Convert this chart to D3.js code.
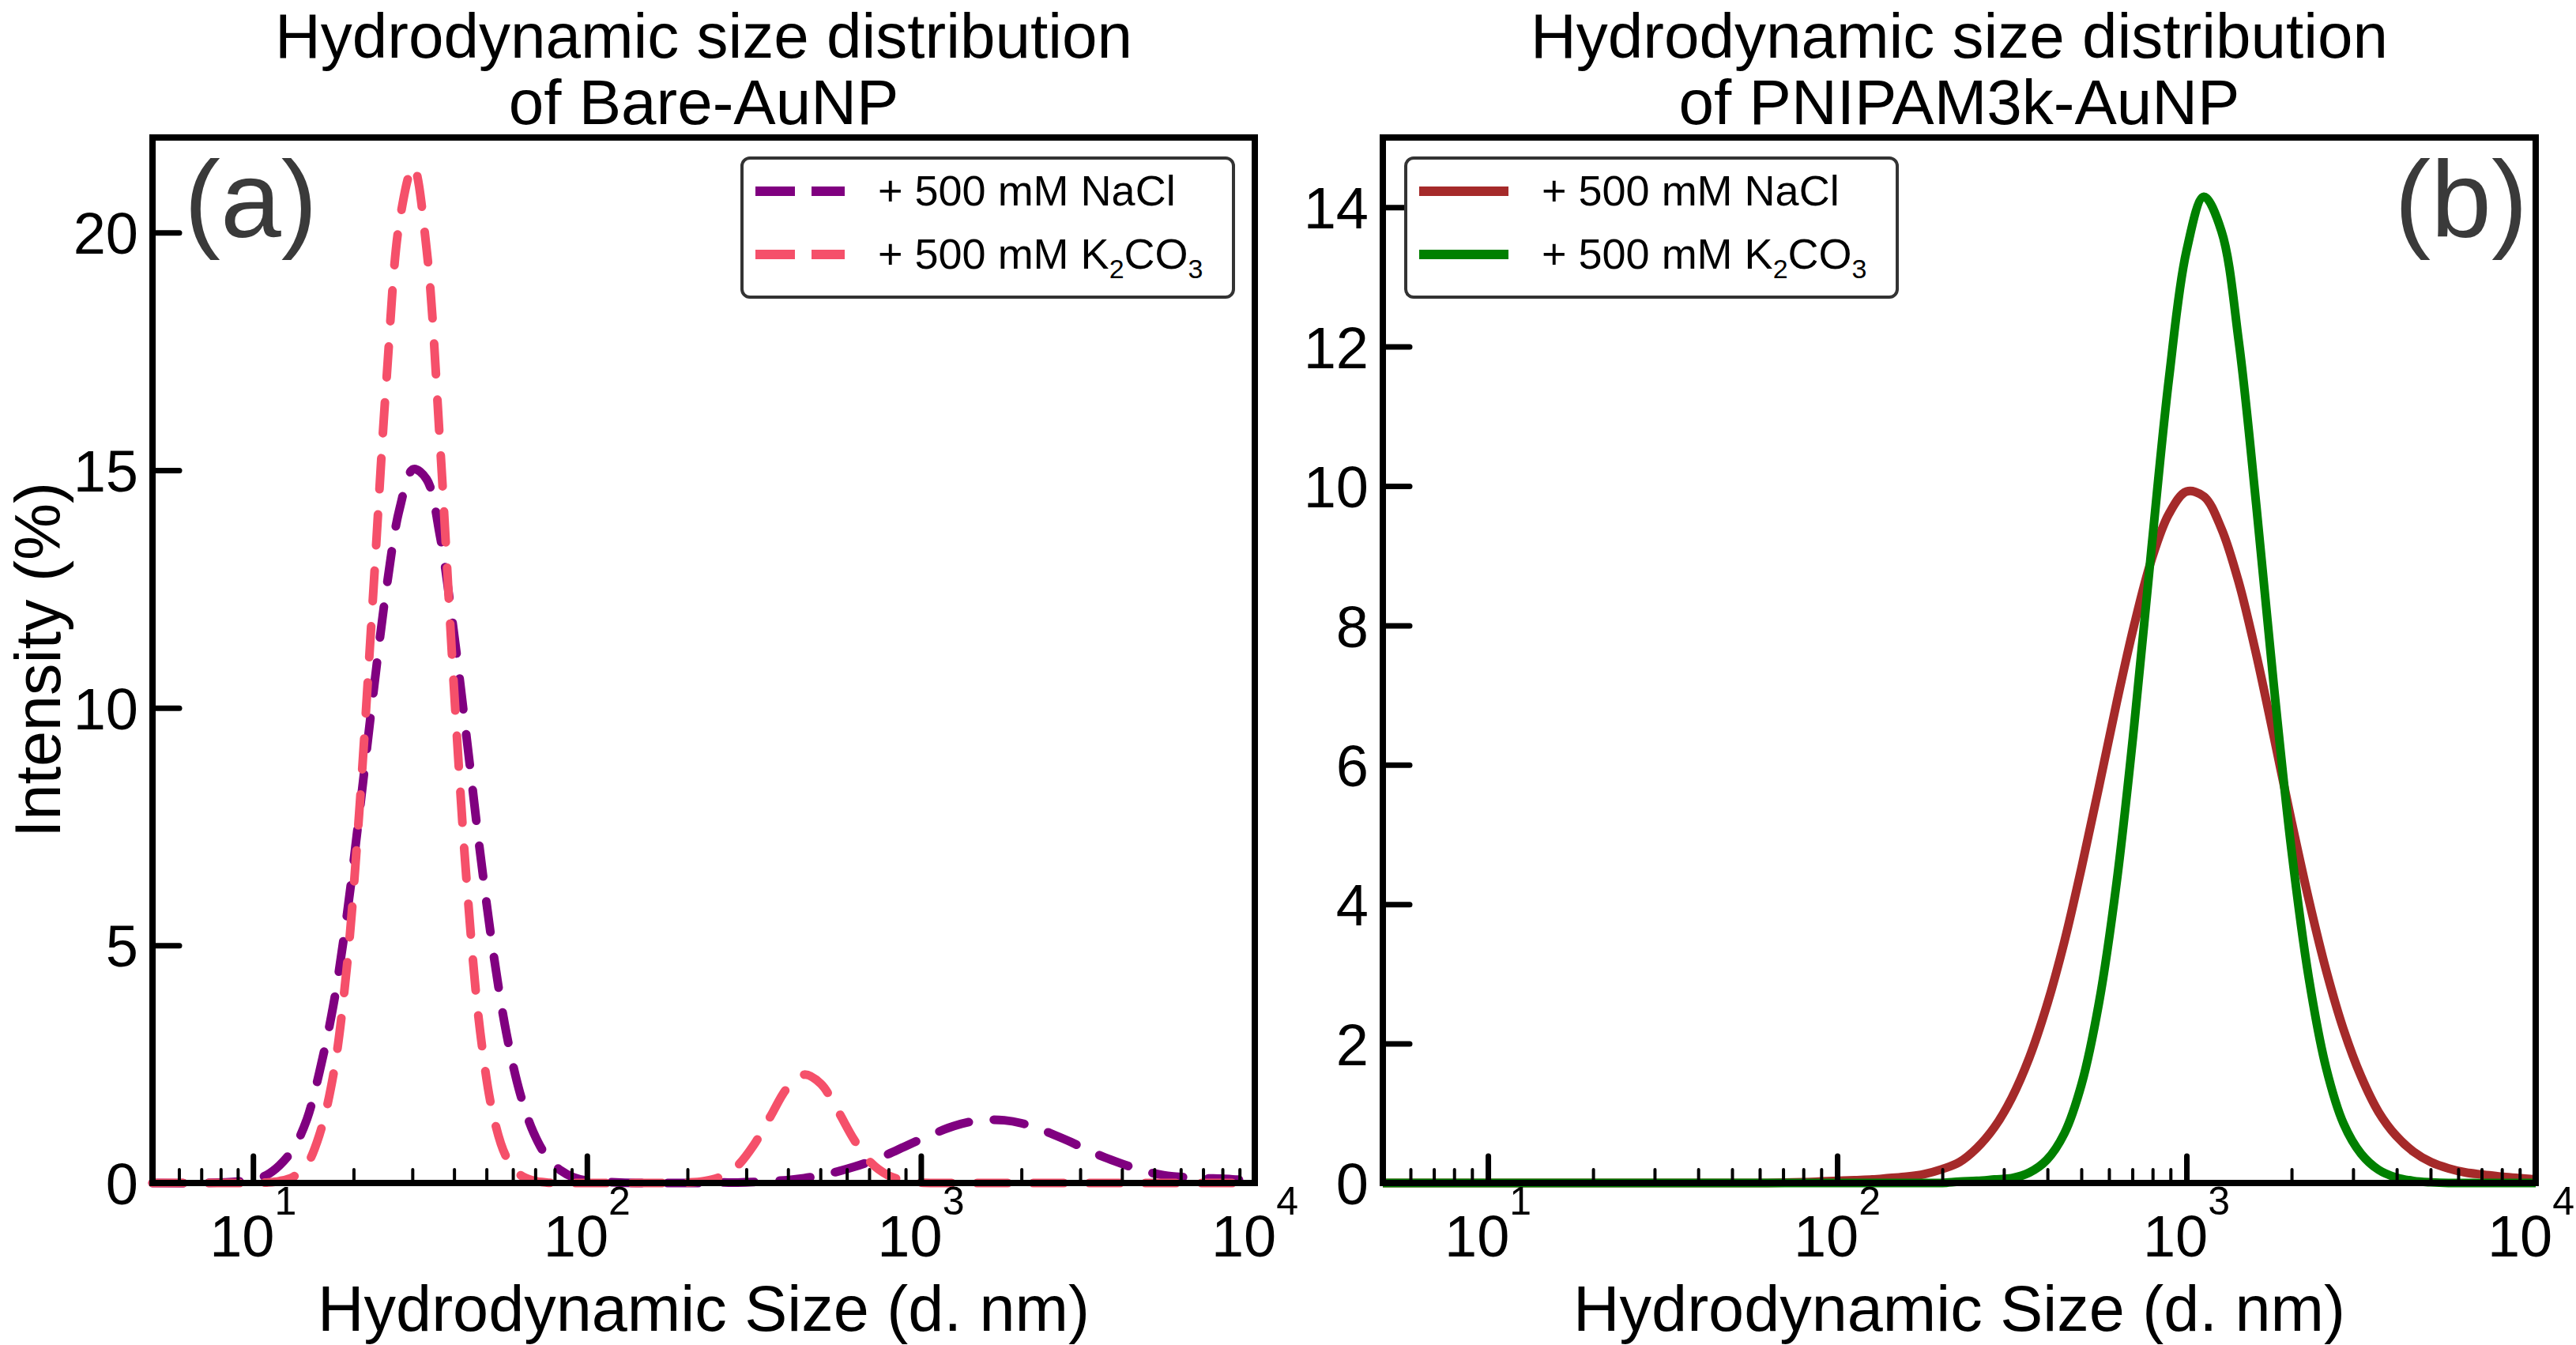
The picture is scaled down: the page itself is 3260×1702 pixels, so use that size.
<!DOCTYPE html>
<html>
<head>
<meta charset="utf-8">
<script src="https://cdn.jsdelivr.net/npm/d3@7"></script>
<style>
html,body{margin:0;padding:0;background:#fff;}
svg{display:block;font-family:"Liberation Sans",Arial,Helvetica,sans-serif;}
</style>
</head>
<body>
<script>
// values (size in nm, intensity in %)
const bareSizes=[5,7,9,10,11,12,13.2,14.5,15.8,17.4,19.1,20.9,22.9,25.1,27.5,30.2,33.1,36.3,39.8,43.7,47.9,52.5,57.5,63.1,69.2,75.9,83.2,91.2,100,126,158,200,224,251,282,316,355,398,447,501,562,631,708,794,891,1000,1122,1259,1413,1585,1778,1995,2239,2512,2818,3162,3548,3981,4467,5012,5623,6310,7079,7943,8913,10000];
const bareNaCl=[0,0,0.03,0.07,0.17,0.37,0.72,1.34,2.33,3.74,5.63,7.88,10.28,12.52,14.2,15.02,14.81,13.62,11.67,9.32,6.94,4.82,3.12,1.88,1.06,0.55,0.27,0.12,0.05,0.01,0,0,0,0.01,0.01,0.02,0.04,0.06,0.10,0.16,0.24,0.34,0.46,0.60,0.76,0.92,1.07,1.20,1.29,1.33,1.32,1.26,1.15,1.01,0.86,0.69,0.54,0.41,0.29,0.20,0.14,0.12,0.10,0.09,0.07,0.05];
const bareK2CO3=[0,0,0,0,0.01,0.04,0.13,0.39,1.01,2.28,4.55,8.01,12.4,16.9,20.26,21.39,19.65,15.57,10.63,6.27,3.18,1.40,0.53,0.17,0.05,0.01,0,0,0,0,0,0.01,0.04,0.13,0.36,0.80,1.41,2.00,2.28,2.09,1.54,0.91,0.43,0.17,0.05,0.01,0,0,0,0,0,0,0,0,0,0,0,0,0,0,0,0,0,0,0,0];

const pnipamSizes=[5,10,20,40,63.1,79.4,100,112,126,141,158,178,200,224,251,282,316,355,398,447,501,562,631,708,794,891,1000,1122,1259,1413,1585,1778,1995,2239,2512,2818,3162,3548,3981,4467,5012,5623,6310,7079,7943,8913,10000];
const pnipamNaCl=[0,0,0,0,0,0.01,0.03,0.04,0.05,0.07,0.09,0.13,0.20,0.30,0.50,0.80,1.22,1.80,2.54,3.46,4.53,5.69,6.89,8.0,8.94,9.60,9.92,9.85,9.39,8.61,7.58,6.41,5.21,4.07,3.05,2.2,1.53,1.02,0.68,0.45,0.30,0.21,0.15,0.12,0.09,0.07,0.05];
const pnipamK2CO3=[0,0,0,0,0,0,0,0,0,0,0,0,0,0.02,0.03,0.05,0.07,0.15,0.33,0.71,1.42,2.59,4.31,6.55,9.1,11.54,13.37,14.15,13.66,12.06,9.72,7.15,4.81,2.95,1.65,0.85,0.42,0.19,0.08,0.03,0.01,0,0,0,0,0,0];

const xMajor=[10,100,1000,10000];
const xExponents=["1","2","3","4"];
const bareYTicks=[0,5,10,15,20];
const pnipamYTicks=[0,2,4,6,8,10,12,14];
const titleTop="Hydrodynamic size distribution";
const titles=["of Bare-AuNP","of PNIPAM3k-AuNP"];
const tags=["(a)","(b)"];

const W=3260,H=1702;
const yTop=174,yBot=1497;
const font='"Liberation Sans",Arial,sans-serif';

const svg=d3.select("body").append("svg")
  .attr("width",W).attr("height",H);

const panels=[
  {x0:193,x1:1588,ymax:22,yticks:bareYTicks,sizes:bareSizes,
   series:[{vals:bareNaCl,color:"#800080"},{vals:bareK2CO3,color:"#f5506a"}],
   dashed:true,title:titles[0],tag:tags[0],tagX:233,tagAnchor:"start",legX:939},
  {x0:1750,x1:3209,ymax:15,yticks:pnipamYTicks,sizes:pnipamSizes,
   series:[{vals:pnipamNaCl,color:"#a52a2a"},{vals:pnipamK2CO3,color:"#008000"}],
   dashed:false,title:titles[1],tag:tags[1],tagX:3199,tagAnchor:"end",legX:1779}
];

panels.forEach((p,pi)=>{
  const x=d3.scaleLog().domain([5,10000]).range([p.x0,p.x1]);
  const y=d3.scaleLinear().domain([0,p.ymax]).range([yBot,yTop]);
  const cx=(p.x0+p.x1)/2;
  const g=svg.append("g");

  // title
  g.append("text").attr("x",cx).attr("y",73).attr("text-anchor","middle")
    .attr("font-size",80).text(titleTop);
  g.append("text").attr("x",cx).attr("y",157).attr("text-anchor","middle")
    .attr("font-size",80).text(p.title);

  // curves
  const line=d3.line()
    .x(d=>x(d[0])).y(d=>y(d[1]))
    .curve(d3.curveCatmullRom.alpha(0.5));
  p.series.forEach(s=>{
    const pts=p.sizes.map((v,i)=>[v,s.vals[i]]);
    g.append("path").datum(pts)
      .attr("d",line)
      .attr("fill","none")
      .attr("stroke",s.color)
      .attr("stroke-width",11)
      .attr("stroke-linejoin","round")
      .attr("stroke-linecap",p.dashed?"round":"butt")
      .attr("stroke-dasharray",p.dashed?"39,32":null);
  });

  // minor x ticks
  const minor=x.ticks().filter(t=>xMajor.indexOf(t)<0 && t>5);
  const axMinor=g.append("g").attr("transform","translate(0,"+yBot+")")
    .call(d3.axisBottom(x).tickValues(minor).tickSize(-17).tickFormat(""));
  axMinor.select(".domain").remove();
  axMinor.selectAll("line").attr("stroke","#000").attr("stroke-width",4).attr("stroke-linecap","round");

  // major x ticks
  const axMajor=g.append("g").attr("transform","translate(0,"+yBot+")")
    .call(d3.axisBottom(x).tickValues(xMajor).tickSize(-34).tickFormat(""));
  axMajor.select(".domain").remove();
  axMajor.selectAll("line").attr("stroke","#000").attr("stroke-width",7).attr("stroke-linecap","round");

  // x tick labels 10^n
  xMajor.forEach((v,i)=>{
    const t=g.append("text").attr("x",x(v)).attr("y",1590)
      .attr("text-anchor","middle").attr("font-size",74);
    t.append("tspan").text("10");
    t.append("tspan").attr("dy",-53).attr("font-size",50).text(xExponents[i]);
    const bb=t.node().getBBox();
    if(bb.x+bb.width>W-2){
      t.attr("x",x(v)-(bb.x+bb.width-(W-2)));
    }
  });

  // y axis
  const ay=g.append("g").attr("transform","translate("+p.x0+",0)")
    .call(d3.axisLeft(y).tickValues(p.yticks).tickSize(-34).tickPadding(18));
  ay.select(".domain").remove();
  ay.selectAll("line").attr("stroke","#000").attr("stroke-width",7).attr("stroke-linecap","round");
  ay.selectAll("text").attr("font-size",74).attr("font-family",font)
    .attr("fill","#000").attr("dy","0.36em");

  // frame
  g.append("rect").attr("x",p.x0).attr("y",yTop)
    .attr("width",p.x1-p.x0).attr("height",yBot-yTop)
    .attr("fill","none").attr("stroke","#000").attr("stroke-width",8);

  // x label
  g.append("text").attr("x",cx).attr("y",1684).attr("text-anchor","middle")
    .attr("font-size",81).text("Hydrodynamic Size (d. nm)");

  // panel tag
  g.append("text").attr("x",p.tagX).attr("y",300).attr("text-anchor",p.tagAnchor)
    .attr("font-size",138).attr("fill","#3a3a3a").text(p.tag);

  // legend
  const lg=g.append("g").attr("transform","translate("+p.legX+",200)");
  lg.append("rect").attr("width",622).attr("height",176).attr("rx",10)
    .attr("fill","#fff").attr("stroke","#333").attr("stroke-width",4);
  const rows=[42,122];
  p.series.forEach((s,i)=>{
    lg.append("line").attr("x1",17).attr("x2",130)
      .attr("y1",rows[i]).attr("y2",rows[i])
      .attr("stroke",s.color).attr("stroke-width",12)
      .attr("stroke-dasharray",p.dashed?"50,21":null);
    const t=lg.append("text").attr("x",172).attr("y",rows[i]+18).attr("font-size",54);
    if(i===0){
      t.text("+ 500 mM NaCl");
    }else{
      t.append("tspan").text("+ 500 mM K");
      t.append("tspan").attr("dy",12).attr("font-size",34).text("2");
      t.append("tspan").attr("dy",-12).text("CO");
      t.append("tspan").attr("dy",12).attr("font-size",34).text("3");
    }
  });
});

// y label
svg.append("text")
  .attr("transform","translate(76,835) rotate(-90)")
  .attr("text-anchor","middle").attr("font-size",81)
  .text("Intensity (%)");
</script>
</body>
</html>
